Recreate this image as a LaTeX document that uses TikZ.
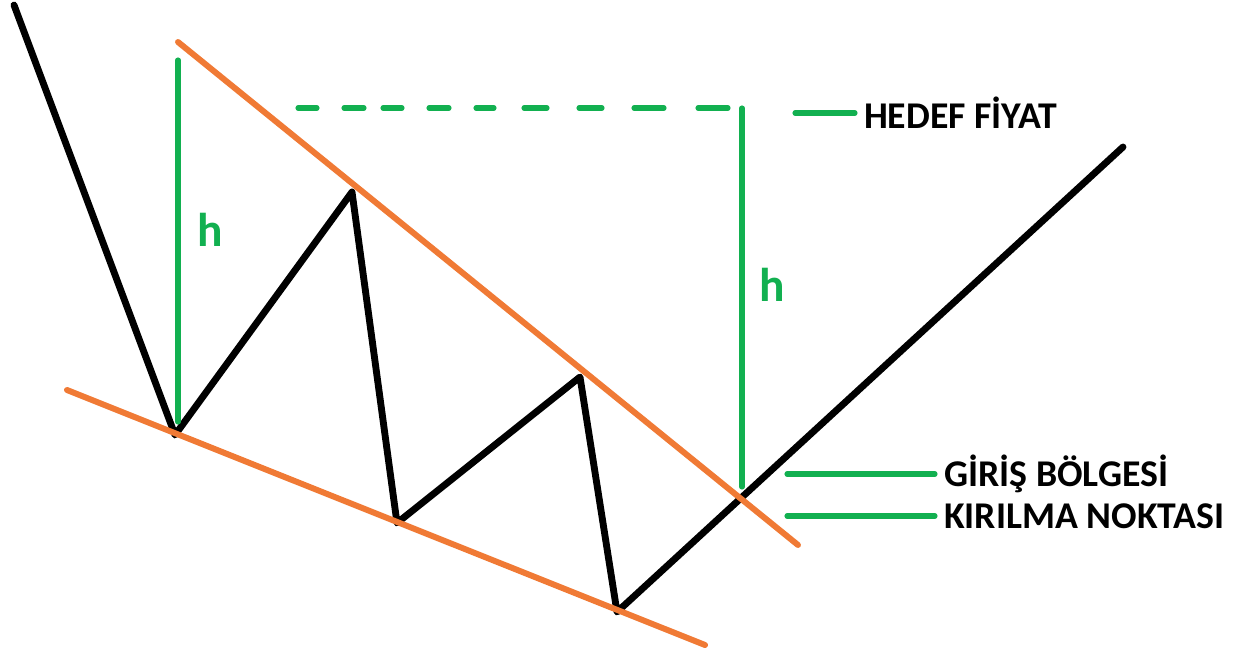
\documentclass[tikz,border=0pt]{standalone}
\usepackage{fontspec}
\setmainfont{Carlito}
\usepackage{xcolor}
\usetikzlibrary{positioning,calc}

\definecolor{trendorange}{HTML}{F07A35}
\definecolor{targetgreen}{HTML}{12B050}

\begin{document}
\begin{tikzpicture}[
  x=0.02cm, y=-0.02cm,
  price/.style={draw=black, line width=3.9pt, line join=round, line cap=round},
  trend/.style={draw=trendorange, line width=3.4pt, line cap=round},
  measure/.style={draw=targetgreen, line width=2.9pt, line cap=round},
  hlabel/.style={text=targetgreen, font=\fontsize{27}{27}\selectfont\bfseries},
  tag/.style={anchor=west, inner sep=0pt, font=\fontsize{21.5}{23}\selectfont\bfseries}
]
\useasboundingbox (0,0) rectangle (1251,659);

% price path
\coordinate (p0) at (14,5);
\coordinate (p1) at (175,435);
\coordinate (p2) at (352,192);
\coordinate (p3) at (397,523);
\coordinate (p4) at (580,377);
\coordinate (p5) at (617,612);
\coordinate (p6) at (1123,147);
\draw[price] (p0) -- (p1) -- (p2) -- (p3) -- (p4) -- (p5) -- (p6);

% wedge borders
\coordinate (up1) at (178,42);
\coordinate (up2) at (798,545);
\coordinate (lo1) at (67,390);
\coordinate (lo2) at (705,645);
\draw[trend] (up1) -- (up2);
\draw[trend] (lo1) -- (lo2);

% height h
\coordinate (h1top) at (178,60);
\coordinate (h1bot) at (178,422);
\draw[measure] (h1top) -- (h1bot);
\node[hlabel] (hleft) at (210,230) {h};

% target level (hand drawn dashes)
\foreach \a/\b in {298/317, 344/364, 383/402, 429/449, 476/494, 524/547, 579/602, 634/664, 698/728}
  \draw[measure] (\a,108) -- (\b,108);
\coordinate (tgtr) at (742,108);
\coordinate (brk) at (742,487);
\draw[measure] (tgtr) -- (brk);
\node[hlabel] (hright) at (772,285) {h};

% labels
\coordinate (m1a) at (795,113);
\coordinate (m1b) at (855,113);
\coordinate (m2a) at (787,474);
\coordinate (m2b) at (935,474);
\coordinate (m3a) at (787,516);
\coordinate (m3b) at (935,516);
\draw[measure] (m1a) -- (m1b);
\draw[measure] (m2a) -- (m2b);
\draw[measure] (m3a) -- (m3b);
\node[tag, right=5pt of m1b] (target) {HEDEF FİYAT};
\node[tag, right=5pt of m2b] (entry) {GİRİŞ BÖLGESİ};
\node[tag, right=5pt of m3b] (breakout) {KIRILMA NOKTASI};
\end{tikzpicture}
\end{document}
